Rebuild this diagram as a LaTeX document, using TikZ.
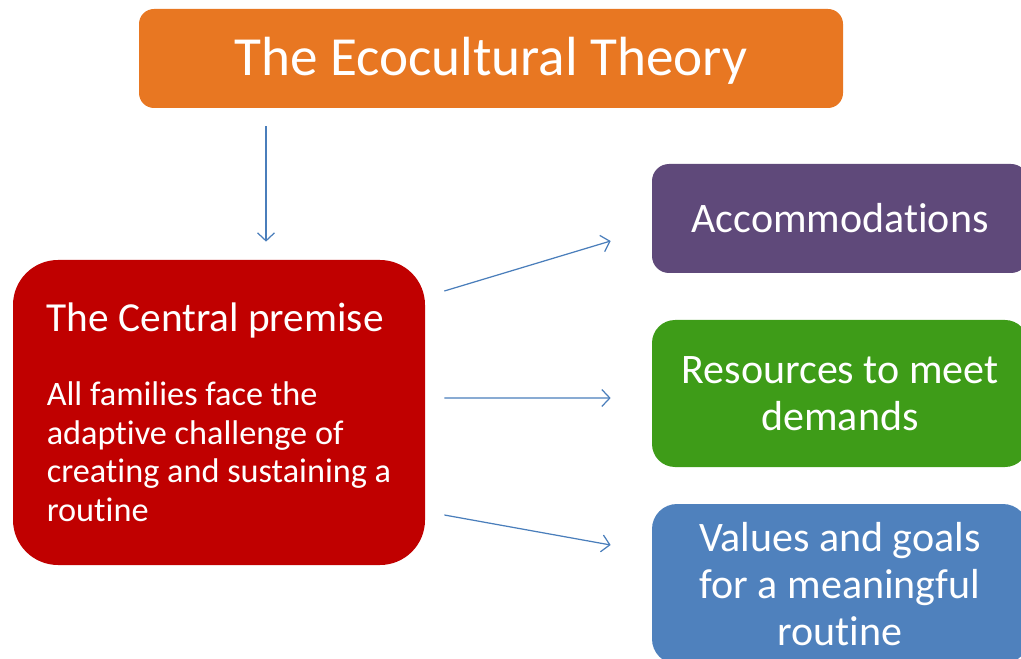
\documentclass[tikz,border=0pt]{standalone}
\usepackage{fontspec}
\setmainfont{Carlito}[Ligatures=NoCommon]
\usetikzlibrary{arrows.meta}
\definecolor{ecoOrange}{HTML}{E87722}
\definecolor{ecoRed}{HTML}{C00000}
\definecolor{ecoPurple}{HTML}{5F497A}
\definecolor{ecoGreen}{HTML}{3E9C18}
\definecolor{ecoBlue}{HTML}{4F81BD}
\definecolor{ecoArrow}{HTML}{4A7EBB}
\tikzset{
  box/.style={fill=#1, text=white, inner sep=0pt},
  sidebox/.style={box=#1, minimum width=7.52cm, align=center,
    font=\fontsize{23.9}{26.6}\selectfont},
  link/.style={draw=ecoArrow, line width=0.7pt, -{Straight Barb[length=1.6mm,width=3.4mm]}}
}
\begin{document}
\begin{tikzpicture}
    \useasboundingbox (0, 0) rectangle (20.42, 13.16);
    \node[box=ecoOrange, rounded corners=0.3cm, minimum width=14.08cm, minimum height=1.98cm,
      font=\fontsize{31.4}{36}\selectfont, text depth=0.1cm] (title) at (9.82, 11.99) {The Ecocultural Theory};
    \node[box=ecoRed, rounded corners=0.9cm, minimum width=8.24cm, minimum height=6.1cm,
      align=left, font=\fontsize{19.5}{22}\selectfont] (premise) at (4.38, 4.91)
      {{\fontsize{23.5}{28}\selectfont The Central premise}\\[20pt]
       All families face the\\ adaptive challenge of\\ creating and sustaining a\\ routine};
    \node[sidebox=ecoPurple, rounded corners=0.34cm, minimum height=2.18cm] (accom) at (16.8, 8.79) {Accommodations};
    \node[sidebox=ecoGreen, rounded corners=0.46cm, minimum height=2.94cm] (resources) at (16.8, 5.29) {Resources to meet\\ demands};
    \node[sidebox=ecoBlue, rounded corners=0.5cm, minimum height=3.2cm] (values) at (16.8, 1.48) {Values and goals\\ for a meaningful\\ routine};
    \draw[link] (title.south -| 5.32, 0) ++(0, -0.36) -- ([yshift=0.36cm]premise.north -| 5.32, 0);
    \draw[link] ([shift={(0.38, 2.43)}]premise.east) -- ([shift={(-0.82, -0.45)}]accom.west);
    \draw[link] ([shift={(0.38, 0.29)}]premise.east) -- ([shift={(-0.82, -0.09)}]resources.west);
    \draw[link] ([shift={(0.38, -2.05)}]premise.east) -- ([shift={(-0.82, 0.78)}]values.west);
  \end{tikzpicture}
\end{document}
